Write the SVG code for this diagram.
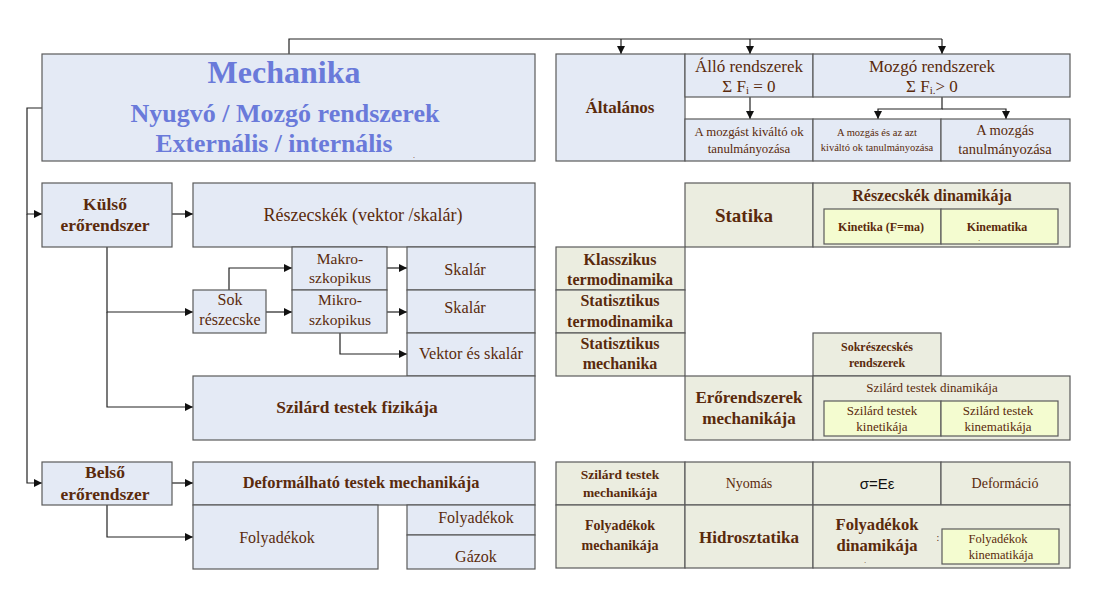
<svg xmlns="http://www.w3.org/2000/svg" width="1100" height="602" viewBox="0 0 1100 602">
<defs>
<marker id="ah" viewBox="0 0 10 10" refX="10" refY="5" markerWidth="10" markerHeight="8" markerUnits="userSpaceOnUse" orient="auto"><path d="M0,0 L10,5 L0,10 z" fill="#111"/></marker>
<style>
.b{fill:#e4eaf5;stroke:#5a5a5a;stroke-width:1.2}
.g{fill:#ebede0;stroke:#5a5a5a;stroke-width:1.2}
.y{fill:#f4fcd0;stroke:#5a5a5a;stroke-width:1.2}
.t{fill:#5a2a0c;text-anchor:middle}
.bd{font-weight:bold}
.m{fill:#6a7ada;text-anchor:middle;font-weight:bold}
.c{fill:none;stroke:#222;stroke-width:1.2}
</style>
</defs>
<rect width="1100" height="602" fill="#fff"/>
<g id="connectors">
<path class="c" d="M289,54 V39 H942"/>
<path class="c" d="M621,39 V54" marker-end="url(#ah)"/>
<path class="c" d="M750,39 V54" marker-end="url(#ah)"/>
<path class="c" d="M942,39 V54" marker-end="url(#ah)"/>
<path class="c" d="M750,97 V119" marker-end="url(#ah)"/>
<path class="c" d="M942,97 V109 H878 V119" marker-end="url(#ah)"/>
<path class="c" d="M942,109 H1006 V119" marker-end="url(#ah)"/>
<path class="c" d="M42,108 H27 V214 H42" marker-end="url(#ah)"/>
<path class="c" d="M27,214 V483 H42" marker-end="url(#ah)"/>
<path class="c" d="M172,214 H193" marker-end="url(#ah)"/>
<path class="c" d="M107,247 V312 H193" marker-end="url(#ah)"/>
<path class="c" d="M107,312 V407 H193" marker-end="url(#ah)"/>
<path class="c" d="M229,290 V268 H292" marker-end="url(#ah)"/>
<path class="c" d="M266,312 H292" marker-end="url(#ah)"/>
<path class="c" d="M387,268 H407" marker-end="url(#ah)"/>
<path class="c" d="M387,312 H407" marker-end="url(#ah)"/>
<path class="c" d="M340,333 V354 H407" marker-end="url(#ah)"/>
<path class="c" d="M172,483 H193" marker-end="url(#ah)"/>
<path class="c" d="M107,505 V537 H193" marker-end="url(#ah)"/>
</g>
<g font-family="Liberation Serif, Times New Roman, DejaVu Serif, serif">
<g id="mechanika"><rect class="b" x="42" y="54" width="493" height="107"/>
<text class="m" x="284" y="83" font-size="32">Mechanika</text>
<text class="m" x="285" y="122" font-size="26">Nyugvó / Mozgó rendszerek</text>
<text class="m" x="274" y="152" font-size="25.7">Externális / internális</text>
<text class="t" x="414" y="158" font-size="8">.</text></g>
<g id="altalanos"><rect class="b" x="556" y="54" width="129" height="107"/><text class="t bd" x="620" y="113" font-size="17">Általános</text></g>
<g id="allo"><rect class="b" x="685" y="54" width="128" height="43"/><text class="t" x="749" y="72" font-size="17">Álló rendszerek</text><text class="t" x="749" y="92" font-size="17">Σ F<tspan font-size="11" dy="2">i</tspan><tspan dy="-2"> = 0</tspan></text></g>
<g id="mozgo"><rect class="b" x="813" y="54" width="257" height="43"/><text class="t" x="932" y="72" font-size="17">Mozgó rendszerek</text><text class="t" x="932" y="92" font-size="17">Σ F<tspan font-size="11" dy="2">i.</tspan><tspan dy="-2">&gt; 0</tspan></text></g>
<g id="kivalto"><rect class="b" x="685" y="119" width="128" height="42"/><text class="t" x="749" y="136" font-size="12.8">A mozgást kiváltó ok</text><text class="t" x="749" y="153" font-size="12.8">tanulmányozása</text></g>
<g id="esazt"><rect class="b" x="813" y="119" width="128" height="42"/><text class="t" x="877" y="136" font-size="10.5">A mozgás és az azt</text><text class="t" x="877" y="151" font-size="10.5">kiváltó ok tanulmányozása</text></g>
<g id="mozgas"><rect class="b" x="941" y="119" width="129" height="42"/><text class="t" x="1005" y="135" font-size="14.5">A mozgás</text><text class="t" x="1005" y="154" font-size="14.5">tanulmányozása</text></g>

<g id="kulso"><rect class="b" x="42" y="183" width="130" height="64"/><text class="t bd" x="105" y="210" font-size="17.5">Külső</text><text class="t bd" x="105" y="231" font-size="17.5">erőrendszer</text></g>
<g id="reszecskek"><rect class="b" x="193" y="183" width="342" height="64"/><text class="t" x="363" y="221" font-size="18">Részecskék (vektor /skalár)</text></g>
<g id="makro"><rect class="b" x="292" y="247" width="95" height="43"/><text class="t" x="340" y="264" font-size="15.5">Makro-</text><text class="t" x="340" y="283" font-size="15.5">szkopikus</text></g>
<g id="skalar1"><rect class="b" x="407" y="247" width="128" height="43"/><text class="t" x="465" y="275" font-size="16.3">Skalár</text></g>
<g id="sok"><rect class="b" x="193" y="290" width="73" height="43"/><text class="t" x="230" y="305" font-size="16">Sok</text><text class="t" x="230" y="325" font-size="16">részecske</text></g>
<g id="mikro"><rect class="b" x="292" y="290" width="95" height="43"/><text class="t" x="340" y="305" font-size="15.5">Mikro-</text><text class="t" x="340" y="325" font-size="15.5">szkopikus</text></g>
<g id="skalar2"><rect class="b" x="407" y="290" width="128" height="43"/><text class="t" x="465" y="313" font-size="16.3">Skalár</text></g>
<g id="vektor"><rect class="b" x="407" y="333" width="128" height="43"/><text class="t" x="471" y="359" font-size="16.3">Vektor és skalár</text></g>
<g id="szilard-fiz"><rect class="b" x="193" y="376" width="342" height="64"/><text class="t bd" x="357" y="413" font-size="17.4">Szilárd testek fizikája</text></g>

<g id="belso"><rect class="b" x="42" y="462" width="130" height="43"/><text class="t bd" x="105" y="478" font-size="17.5">Belső</text><text class="t bd" x="105" y="500" font-size="17.5">erőrendszer</text></g>
<g id="deform"><rect class="b" x="193" y="462" width="342" height="43"/><text class="t bd" x="361" y="488" font-size="16.4">Deformálható testek mechanikája</text></g>
<g id="folyadekok"><rect class="b" x="193" y="505" width="185" height="64"/><text class="t" x="277" y="543" font-size="16">Folyadékok</text></g>
<g id="folyadekok2"><rect class="b" x="407" y="505" width="128" height="30"/><text class="t" x="476" y="523" font-size="16">Folyadékok</text></g>
<g id="gazok"><rect class="b" x="407" y="535" width="128" height="34"/><text class="t" x="476" y="562" font-size="16">Gázok</text></g>

<g id="statika"><rect class="g" x="685" y="183" width="128" height="64"/><text class="t bd" x="744" y="222" font-size="19">Statika</text></g>
<g id="resz-din"><rect class="g" x="813" y="183" width="257" height="64"/><text class="t bd" x="932" y="201" font-size="16">Részecskék dinamikája</text>
<rect class="y" x="824" y="209" width="117" height="35"/><text class="t bd" x="881" y="231" font-size="12">Kinetika (F=ma)</text>
<rect class="y" x="941" y="209" width="117" height="35"/><text class="t bd" x="997" y="231" font-size="12">Kinematika</text><text class="t" x="979" y="241" font-size="7">.</text></g>
<g id="klassz"><rect class="g" x="556" y="247" width="129" height="43"/><text class="t bd" x="620" y="265" font-size="16">Klasszikus</text><text class="t bd" x="620" y="285" font-size="16">termodinamika</text></g>
<g id="stat-termo"><rect class="g" x="556" y="290" width="129" height="43"/><text class="t bd" x="620" y="306" font-size="16">Statisztikus</text><text class="t bd" x="620" y="327" font-size="16">termodinamika</text></g>
<g id="stat-mech"><rect class="g" x="556" y="333" width="129" height="43"/><text class="t bd" x="620" y="349" font-size="16">Statisztikus</text><text class="t bd" x="620" y="369" font-size="16">mechanika</text></g>
<g id="sokresz"><rect class="g" x="813" y="333" width="128" height="43"/><text class="t bd" x="877" y="351" font-size="12">Sokrészecskés</text><text class="t bd" x="877" y="367" font-size="12">rendszerek</text></g>
<g id="erorend"><rect class="g" x="685" y="376" width="128" height="64"/><text class="t bd" x="749" y="403" font-size="17">Erőrendszerek</text><text class="t bd" x="749" y="424" font-size="17">mechanikája</text></g>
<g id="szil-din"><rect class="g" x="813" y="376" width="257" height="64"/><text class="t" x="932" y="392" font-size="13">Szilárd testek dinamikája</text>
<rect class="y" x="824" y="401" width="117" height="35"/><text class="t" x="882" y="415" font-size="13">Szilárd testek</text><text class="t" x="882" y="431" font-size="13">kinetikája</text>
<rect class="y" x="941" y="401" width="117" height="35"/><text class="t" x="998" y="415" font-size="13">Szilárd testek</text><text class="t" x="998" y="431" font-size="13">kinematikája</text></g>

<g id="szil-mech"><rect class="g" x="556" y="462" width="129" height="43"/><text class="t bd" x="620" y="479" font-size="13.5">Szilárd testek</text><text class="t bd" x="620" y="497" font-size="13.5">mechanikája</text></g>
<g id="nyomas"><rect class="g" x="685" y="462" width="128" height="43"/><text class="t" x="749" y="488" font-size="14">Nyomás</text></g>
<g id="sigma"><rect class="g" x="813" y="462" width="128" height="43"/><text x="877" y="489" font-size="15" font-family="Liberation Sans, Arial, sans-serif" fill="#111" text-anchor="middle">σ=Eε</text></g>
<g id="deformacio"><rect class="g" x="941" y="462" width="129" height="43"/><text class="t" x="1005" y="488" font-size="14">Deformáció</text></g>
<g id="foly-mech"><rect class="g" x="556" y="505" width="129" height="63"/><text class="t bd" x="620" y="530" font-size="14">Folyadékok</text><text class="t bd" x="620" y="550" font-size="14">mechanikája</text></g>
<g id="hidro"><rect class="g" x="685" y="505" width="128" height="63"/><text class="t bd" x="749" y="543" font-size="17">Hidrosztatika</text></g>
<g id="foly-din"><rect class="g" x="813" y="505" width="257" height="63"/><text class="t bd" x="877" y="530" font-size="16.6">Folyadékok</text><text class="t bd" x="877" y="551" font-size="16.6">dinamikája</text>
<text class="t" x="865" y="563" font-size="7">.</text>
<text class="t" x="938" y="541" font-size="10">:</text>
<rect class="y" x="942" y="529" width="117" height="35"/><text class="t" x="998" y="543" font-size="12.5">Folyadékok</text><text class="t" x="1001" y="559" font-size="12.5">kinematikája</text></g>
</g>
</svg>
